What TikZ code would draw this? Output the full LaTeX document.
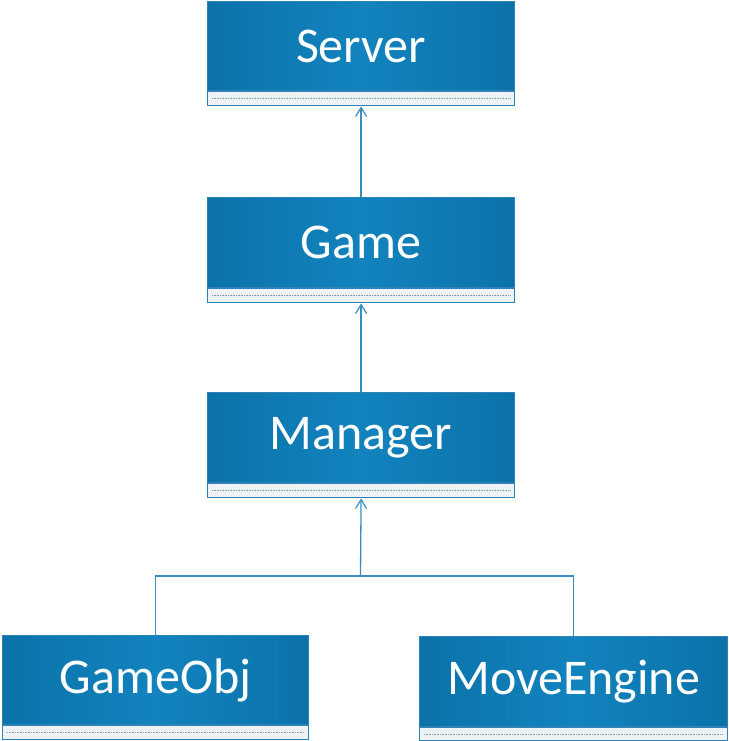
\documentclass[tikz,border=0pt]{standalone}
\usepackage{fontspec}
\setmainfont{Carlito}
\usetikzlibrary{arrows.meta}
\definecolor{hdrEdge}{HTML}{0B72A9}
\definecolor{hdrMid}{HTML}{1283BE}
\definecolor{boxLine}{HTML}{2F82B5}
\definecolor{compFill}{HTML}{EEF2F4}
\definecolor{dotCol}{HTML}{7F9DB3}
\definecolor{connCol}{HTML}{3A8DC2}
\tikzset{
  hdr/.style={draw=boxLine, line width=1.2pt, left color=hdrEdge, right color=hdrEdge, middle color=hdrMid,
    text=white, font=\fontsize{50}{58}\selectfont, inner sep=0pt, anchor=north west},
  comp/.style={draw=boxLine, line width=1.2pt, fill=compFill, inner sep=0pt, anchor=north west},
  dots/.style={dotCol, line width=0.7pt, dash pattern=on 0.8pt off 0.8pt},
  conn/.style={connCol, line width=1.3pt},
  arr/.style={conn, -{Straight Barb[length=9pt,width=11pt,line width=1.2pt]}}
}
\newcommand{\classbox}[7]{% name, x, ytop, width, hdrh, comph, text
  \node[hdr, minimum width=#4pt, minimum height=#5pt] (#1) at (#2,-#3) {#7};
  \node[comp, minimum width=#4pt, minimum height=#6pt] (#1C) at (#1.south west) {};
  \draw[dots] ([xshift=5pt]#1C.west) -- ([xshift=-5pt]#1C.east);
}
\begin{document}
\begin{tikzpicture}[x=1pt,y=1pt]
\useasboundingbox (0,0) rectangle (728,-741);
\classbox{server}{207}{1}{307}{89}{14}{Server}
\classbox{game}{207}{197}{307}{90}{14}{Game}
\classbox{manager}{207}{392}{307}{90}{14}{Manager}
\classbox{gameobj}{2}{635}{306}{89}{14}{GameObj}
\classbox{moveengine}{419}{636}{308}{90}{13}{MoveEngine}
\coordinate (junction) at (360.5,-576);
\draw[arr] (game.north) -- (serverC.south);
\draw[arr] (manager.north) -- (gameC.south);
\draw[conn] (gameobj.north) |- (junction);
\draw[conn] (moveengine.north) |- (junction);
\draw[arr] (junction) -- (managerC.south);
\end{tikzpicture}
\end{document}
